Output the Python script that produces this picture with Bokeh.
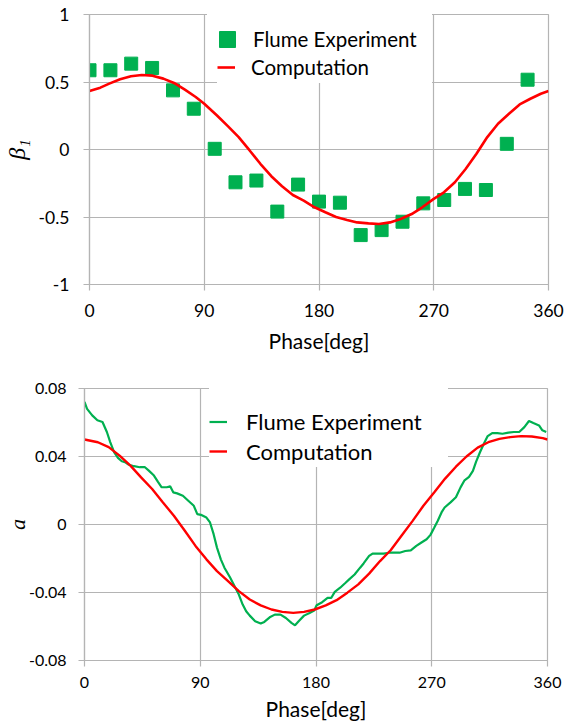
from bokeh.plotting import figure
from bokeh.layouts import column, row
from bokeh.models import Range1d, FixedTicker, Legend, LegendItem
from bokeh.embed import file_html
from bokeh.resources import INLINE

# ---------------- data ----------------
x_ticks = [0, 90, 180, 270, 360]

beta_ticks = [-1, -0.5, 0, 0.5, 1]
beta_tick_labels = ["-1", "-0.5", "0", "0.5", "1"]

a_ticks = [-0.08, -0.04, 0, 0.04, 0.08]
a_tick_labels = ["-0.08", "-0.04", "0", "0.04", "0.08"]

# top chart: flume experiment (squares)
beta_exp_phase = [0, 16.4, 32.7, 49.1, 65.5, 81.8, 98.2, 114.5, 130.9, 147.3,
                  163.6, 180, 196.4, 212.7, 229.1, 245.5, 261.8, 278.2, 294.5, 310.9,
                  327.3, 343.6]
beta_exp = [0.587, 0.587, 0.636, 0.604, 0.438, 0.302, 0.005, -0.243, -0.230, -0.460,
            -0.260, -0.386, -0.394, -0.634, -0.597, -0.535, -0.399, -0.374, -0.292, -0.300,
            0.042, 0.517]

# top chart: computation (line)
beta_comp_phase = [0, 8.5, 15.5, 24, 32.5, 41, 49.4, 57.9, 66.3, 74.8,
                   83.3, 90, 100, 108.7, 117, 125.6, 134, 142.6, 151, 159.5,
                   168, 176.5, 185, 193.4, 202, 210, 218.8, 227, 235.7, 244,
                   252.7, 261, 270, 278, 286.6, 295, 303.5, 312, 320.4, 329,
                   337.4, 345.8, 354, 360]
beta_comp = [0.433, 0.458, 0.488, 0.520, 0.542, 0.552, 0.547, 0.525, 0.493, 0.443,
             0.389, 0.339, 0.252, 0.171, 0.092, -0.007, -0.106, -0.198, -0.272, -0.337,
             -0.379, -0.428, -0.465, -0.500, -0.522, -0.540, -0.547, -0.552, -0.540, -0.515,
             -0.478, -0.428, -0.366, -0.317, -0.243, -0.144, -0.032, 0.092, 0.191, 0.265,
             0.334, 0.376, 0.413, 0.433]

# bottom chart: flume experiment (line)
a_exp_phase = [0, 2, 6, 10, 14, 17.4, 20, 23, 26, 29,
               31.5, 34, 38.5, 43, 47, 50, 54, 57, 60, 64,
               66.6, 69, 72, 76.5, 80.7, 85, 87.7, 90.5, 94.8, 97.6,
               100.4, 103, 106, 108.8, 113, 117, 120, 123, 125.7, 128.5,
               132.7, 137, 139.8, 144, 148, 152.4, 156.6, 160.9, 163.7, 166.5,
               170.7, 175, 178.6, 180.5, 184.8, 189, 191.8, 194.6, 198.8, 203,
               205.8, 210, 214.3, 217, 221.3, 224, 228.3, 232.6, 236.8, 241,
               245, 249.4, 253.7, 258, 262, 266, 269, 272, 274.7, 277.6,
               280, 284.6, 288.8, 292.5, 295.5, 299, 302, 304.5, 307.5, 310.5,
               313.5, 317, 321, 325, 329.6, 333.8, 338, 342, 345.6, 349,
               353.4, 356, 359]
a_exp = [0.0721, 0.0680, 0.0642, 0.0613, 0.0603, 0.0544, 0.0485, 0.0426, 0.0392, 0.0372,
         0.0367, 0.0353, 0.0343, 0.0337, 0.0337, 0.0317, 0.0288, 0.0252, 0.0219, 0.0219,
         0.0225, 0.0189, 0.0183, 0.0169, 0.0140, 0.0110, 0.0061, 0.0057, 0.0041, 0.0012,
         -0.0057, -0.0136, -0.0205, -0.0254, -0.0309, -0.0368, -0.0412, -0.0471, -0.0510, -0.0536,
         -0.0569, -0.0583, -0.0573, -0.0546, -0.0530, -0.0530, -0.0550, -0.0579, -0.0593, -0.0569,
         -0.0536, -0.0520, -0.0506, -0.0475, -0.0457, -0.0432, -0.0432, -0.0396, -0.0372, -0.0343,
         -0.0323, -0.0294, -0.0254, -0.0229, -0.0185, -0.0171, -0.0171, -0.0171, -0.0166, -0.0166,
         -0.0166, -0.0156, -0.0152, -0.0126, -0.0106, -0.0087, -0.0061, -0.0018, 0.0022, 0.0071,
         0.0100, 0.0130, 0.0160, 0.0220, 0.0260, 0.0280, 0.0315, 0.0370, 0.0425, 0.0475,
         0.0520, 0.0538, 0.0538, 0.0534, 0.0540, 0.0544, 0.0544, 0.0573, 0.0609, 0.0597,
         0.0583, 0.0554, 0.0544]

# bottom chart: computation (line)
a_comp_phase = [0, 10.4, 18.8, 27.3, 35.7, 44, 52.6, 61, 69.5, 78,
                86.3, 94.8, 103, 111.6, 120, 128.5, 137, 145.4, 153.8, 162.3,
                170.7, 179, 187.6, 196, 204.4, 212.9, 221.3, 229.8, 238.2, 246.6,
                255, 263.5, 272, 280.4, 288.8, 297, 305.7, 314, 322.6, 331,
                339.4, 347.8, 356.3, 360]
a_comp = [0.0500, 0.0484, 0.0455, 0.0405, 0.0346, 0.0277, 0.0209, 0.0130, 0.0051, -0.0037,
          -0.0126, -0.0205, -0.0274, -0.0333, -0.0392, -0.0441, -0.0476, -0.0500, -0.0514, -0.0520,
          -0.0514, -0.0500, -0.0476, -0.0445, -0.0401, -0.0352, -0.0289, -0.0215, -0.0150, -0.0065,
          0.0020, 0.0110, 0.0190, 0.0270, 0.0340, 0.0400, 0.0452, 0.0484, 0.0504, 0.0514,
          0.0520, 0.0518, 0.0508, 0.0500]

# ---------------- style ----------------
GREEN = "#00B050"
RED = "#FF0000"
GRID = "#b4b4b4"
FONT = "Lato"


def style(p, yticks, ylabels, ylabel, tick_size, ylabel_size,
          y_std, y_lab_std, x_std, x_lab_std):
    tick_x = FixedTicker(ticks=x_ticks)
    tick_y = FixedTicker(ticks=yticks)
    p.xaxis.ticker = tick_x
    p.yaxis.ticker = tick_y
    p.xgrid.ticker = tick_x
    p.ygrid.ticker = tick_y
    p.yaxis.major_label_overrides = {t: l for t, l in zip(yticks, ylabels)}
    for ax in (p.xaxis, p.yaxis):
        ax.axis_line_color = GRID
        ax.axis_line_width = 1.2
        ax.major_tick_line_color = GRID
        ax.major_tick_line_width = 1.2
        ax.major_tick_in = 0
        ax.major_tick_out = 6
        ax.minor_tick_line_color = None
        ax.major_label_text_font = FONT
        ax.major_label_text_font_size = tick_size
        ax.major_label_text_color = "black"
        ax.axis_label_text_color = "black"
    p.xaxis.axis_label = "Phase[deg]"
    p.xaxis.axis_label_text_font = FONT
    p.xaxis.axis_label_text_font_size = "21px"
    p.xaxis.axis_label_text_font_style = "normal"
    p.yaxis.axis_label = ylabel
    p.yaxis.axis_label_text_font = "Liberation Serif"
    p.yaxis.axis_label_text_font_size = ylabel_size
    p.yaxis.axis_label_text_font_style = "italic"
    p.yaxis.major_label_standoff = y_std
    p.yaxis.axis_label_standoff = y_lab_std
    p.xaxis.major_label_standoff = x_std
    p.xaxis.axis_label_standoff = x_lab_std
    for g in (p.xgrid, p.ygrid):
        g.grid_line_color = GRID
        g.grid_line_width = 1.2
    p.outline_line_color = GRID
    p.outline_line_width = 1.2
    p.background_fill_color = "white"
    p.border_fill_color = "white"


def make_legend(item, loc, gw, gh, standoff, lw, size):
    return Legend(items=[item], location=loc, padding=0,
                  glyph_width=gw, glyph_height=gh, label_height=gh,
                  label_standoff=standoff, label_width=lw, spacing=0,
                  margin=0, border_line_color=None,
                  background_fill_color="white", background_fill_alpha=1.0,
                  label_text_font=FONT, label_text_font_size=size,
                  label_text_color="black")


# ---------------- top chart ----------------
p1 = figure(width=565, height=372, x_range=Range1d(0, 360), y_range=Range1d(-1, 1),
            output_backend="svg", toolbar_location=None,
            min_border_left=88, min_border_right=17, min_border_top=14, min_border_bottom=88)
style(p1, beta_ticks, beta_tick_labels, "β₁", "17.5px", "24px", 14, 6, 13, 8)
r_sq = p1.scatter(beta_exp_phase, beta_exp, marker="square", size=13,
                  fill_color=GREEN, line_color=GREEN)
r_c1 = p1.line(beta_comp_phase, beta_comp, line_color=RED, line_width=2.6)
p1.add_layout(make_legend(LegendItem(label="Flume Experiment", renderers=[r_sq]),
                          (118, 220), 40, 50, 6, 179, "20.5px"))
p1.add_layout(make_legend(LegendItem(label="Computation", renderers=[r_c1]),
                          (128, 201), 18, 32, 16, 181, "20.5px"))

# ---------------- bottom chart ----------------
p2 = figure(width=565, height=354, x_range=Range1d(0, 360), y_range=Range1d(-0.08, 0.08),
            output_backend="svg", toolbar_location=None,
            min_border_left=84, min_border_right=18, min_border_top=16, min_border_bottom=66)
style(p2, a_ticks, a_tick_labels, "a", "16px", "22px", 12, -4, 10, 5)
r_g = p2.line(a_exp_phase, a_exp, line_color=GREEN, line_width=2.2)
r_r = p2.line(a_comp_phase, a_comp, line_color=RED, line_width=2.4)
p2.add_layout(make_legend(LegendItem(label="Flume Experiment", renderers=[r_g]),
                          (125, 205), 18, 67, 19, 202, "22px"))
p2.add_layout(make_legend(LegendItem(label="Computation", renderers=[r_r]),
                          (125, 193), 18, 32, 19, 202, "22px"))

layout = column(row(p1), row(p2))
open("out.html", "w").write(file_html(layout, INLINE))
